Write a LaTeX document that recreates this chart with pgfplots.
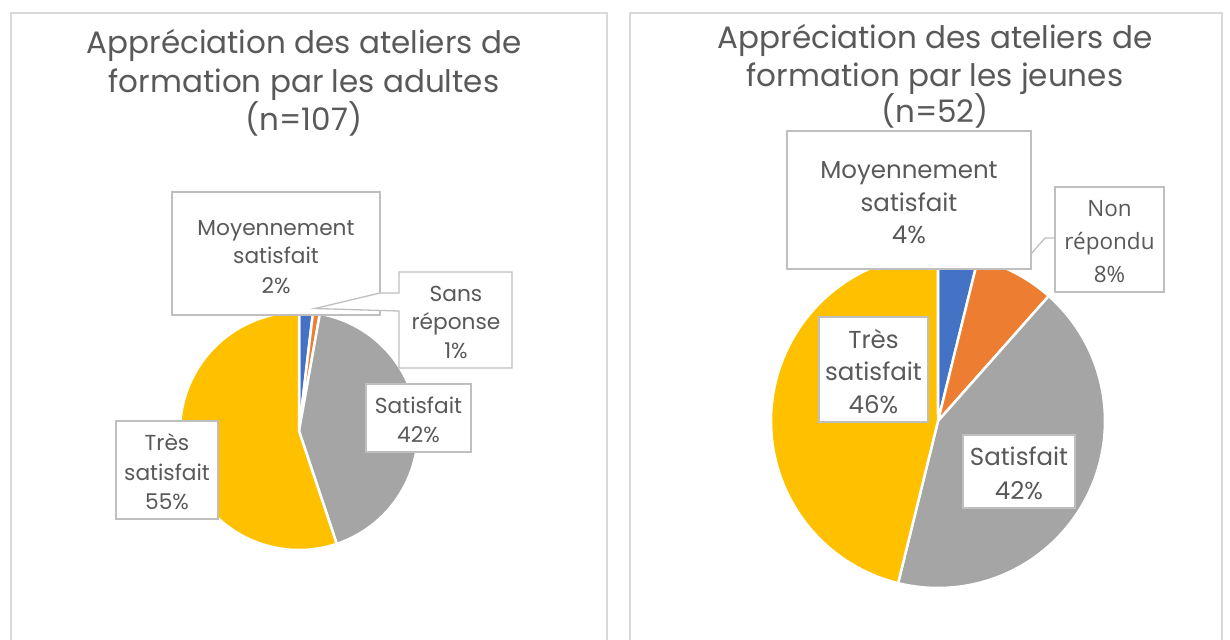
\documentclass[border=0pt]{standalone}
\usepackage{pgfplots}
\pgfplotsset{compat=1.18}
\usepackage{fontspec}
\setmainfont{Poppins}
\newfontfamily\segoe{Open Sans}
\definecolor{txt}{HTML}{595959}
\definecolor{boxc}{HTML}{BFBFBF}
\definecolor{panel}{HTML}{D9D9D9}
\definecolor{cblue}{HTML}{4472C4}
\definecolor{corange}{HTML}{ED7D31}
\definecolor{cgray}{HTML}{A5A5A5}
\definecolor{cyellow}{HTML}{FFC000}
% slice: cx, cy, r, total, from, to (cumulative counts), colour
\newcommand{\pieslice}[7]{%
  \addplot[draw=white, line width=2.5bp, line join=round, fill=#7,
    domain=#5:#6, samples=90, variable=\t]
    ({#1+#3*sin(360*\t/#4)}, {#2-#3*cos(360*\t/#4)}) -- (axis cs:#1,#2) -- cycle;}
\newcommand{\lbl}[4]{\node[anchor=base, text=txt, inner sep=0pt, font=#4] at (axis cs:#1,#2) {#3};}
\newcommand{\ftitle}{\fontsize{31bp}{36bp}\selectfont}
\newcommand{\fl}{\fontsize{21.7bp}{26bp}\selectfont}
\newcommand{\fr}{\fontsize{24.5bp}{29bp}\selectfont}
\newcommand{\fc}{\segoe\fontsize{22.5bp}{27bp}\selectfont}
\begin{document}
\begin{tikzpicture}
\begin{axis}[at={(0,0)}, anchor=south west, width=1230bp, height=640bp,
  scale only axis, xmin=0, xmax=1230, ymin=0, ymax=640, y dir=reverse,
  hide axis, clip=false]
% panels
\draw[panel, line width=1.5bp] (axis cs:11,650) -- (axis cs:11,13) -- (axis cs:607,13) -- (axis cs:607,650);
\draw[panel, line width=1.5bp] (axis cs:630,650) -- (axis cs:630,13) -- (axis cs:1222,13) -- (axis cs:1222,650);
% left pie, n = 107 : 2, 1, 45, 59
\pieslice{299}{431}{119}{107}{0}{2}{cblue}
\pieslice{299}{431}{119}{107}{2}{3}{corange}
\pieslice{299}{431}{119}{107}{3}{48}{cgray}
\pieslice{299}{431}{119}{107}{48}{107}{cyellow}
% right pie, n = 52 : 2, 4, 22, 24
\pieslice{938}{421}{167}{52}{0}{2}{cblue}
\pieslice{938}{421}{167}{52}{2}{6}{corange}
\pieslice{938}{421}{167}{52}{6}{28}{cgray}
\pieslice{938}{421}{167}{52}{28}{52}{cyellow}
% titles
\lbl{304}{53}{Appréciation des ateliers de}{\ftitle}
\lbl{304}{92}{formation par les adultes}{\ftitle}
\lbl{304}{130}{(n=107)}{\ftitle}
\lbl{935}{48}{Appréciation des ateliers de}{\ftitle}
\lbl{935}{86}{formation par les jeunes}{\ftitle}
\lbl{935}{122}{(n=52)}{\ftitle}
% left labels
\draw[boxc, fill=white, line width=1.3bp] (axis cs:172,192) rectangle (axis cs:380,315);
\lbl{276}{235}{Moyennement}{\fl}
\lbl{276}{263}{satisfait}{\fl}
\lbl{276}{293}{2\%}{\fl}
\draw[boxc, fill=white, line width=1.3bp] (axis cs:399,272) -- (axis cs:512,272) -- (axis cs:512,368) -- (axis cs:399,368) -- (axis cs:399,311) -- (axis cs:315,308.5) -- (axis cs:380,293) -- (axis cs:399,293) -- cycle;
\lbl{456}{301}{Sans}{\fl}
\lbl{456}{329}{réponse}{\fl}
\lbl{456}{358}{1\%}{\fl}
\draw[boxc, fill=white, line width=1.3bp] (axis cs:366,384) rectangle (axis cs:471,452);
\lbl{418.5}{413}{Satisfait}{\fl}
\lbl{418.5}{442}{42\%}{\fl}
\draw[boxc, fill=white, line width=1.3bp] (axis cs:116,421) rectangle (axis cs:218,519);
\lbl{167}{450}{Très}{\fl}
\lbl{167}{480}{satisfait}{\fl}
\lbl{167}{509}{55\%}{\fl}
% right labels
\draw[boxc, line width=1.3bp] (axis cs:1055,238) -- (axis cs:1045,238) -- (axis cs:1017,270);
\draw[boxc, fill=white, line width=1.3bp] (axis cs:787,131) rectangle (axis cs:1031,269);
\lbl{909}{178}{Moyennement}{\fr}
\lbl{909}{211}{satisfait}{\fr}
\lbl{909}{243}{4\%}{\fr}
\draw[boxc, fill=white, line width=1.3bp] (axis cs:1055,187) rectangle (axis cs:1164,292);
\lbl{1109.5}{216}{Non}{\fc}
\lbl{1109.5}{249}{répondu}{\fc}
\lbl{1109.5}{282}{8\%}{\fc}
\draw[boxc, fill=white, line width=1.3bp] (axis cs:819,317) rectangle (axis cs:928,422);
\lbl{873.5}{348}{Très}{\fr}
\lbl{873.5}{380}{satisfait}{\fr}
\lbl{873.5}{413}{46\%}{\fr}
\draw[boxc, fill=white, line width=1.3bp] (axis cs:963,435) rectangle (axis cs:1075,508);
\lbl{1019}{465}{Satisfait}{\fr}
\lbl{1019}{499}{42\%}{\fr}
\end{axis}
\pgfresetboundingbox
\path[use as bounding box] (0,0) rectangle (1230bp,640bp);
\end{tikzpicture}
\end{document}
